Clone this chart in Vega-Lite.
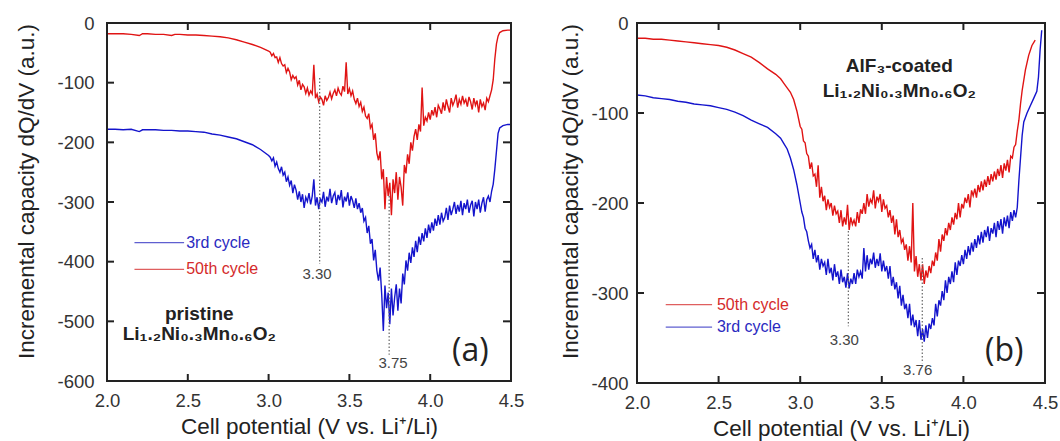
{
"$schema": "https://vega.github.io/schema/vega-lite/v6.json",
"padding": {"left": 14, "top": 13, "right": 0, "bottom": 0},
"background": "white",
"spacing": 33,
"config": {
  "view": {"stroke": "#222", "strokeWidth": 2},
  "font": "Liberation Sans",
  "axis": {"grid": false, "ticks": false, "tickSize": 0, "domain": false, "labelFontSize": 18.5, "labelColor": "#333", "labelFont": "Liberation Sans", "titleFont": "Liberation Sans", "titleFontSize": 22.5, "titleFontWeight": "normal", "titleColor": "#222", "labelFlush": false, "labelOverlap": false}
},
"datasets": {
"one": [{"f": 1}],
"xt": [{"v":2.5},{"v":3.0},{"v":3.5},{"v":4.0}],
"yta": [{"v":-100},{"v":-200},{"v":-300},{"v":-400},{"v":-500}],
"ytb": [{"v":-100},{"v":-200},{"v":-300}],
"a50": [
{"x":2.0,"y":-18},{"x":2.05,"y":-18},{"x":2.1,"y":-18},{"x":2.15,"y":-19},{"x":2.2,"y":-21},{"x":2.22,"y":-18},{"x":2.25,"y":-18},{"x":2.3,"y":-19},{"x":2.35,"y":-19},{"x":2.4,"y":-21},{"x":2.42,"y":-19},{"x":2.45,"y":-19},{"x":2.5,"y":-20},{"x":2.55,"y":-20},{"x":2.6,"y":-21},{"x":2.65,"y":-22},{"x":2.7,"y":-23},{"x":2.75,"y":-25},{"x":2.8,"y":-28},{"x":2.85,"y":-32},{"x":2.9,"y":-36},{"x":2.95,"y":-41},{"x":3.0,"y":-47},
{"x":3.01,"y":-49},{"x":3.02,"y":-55},{"x":3.03,"y":-51},{"x":3.04,"y":-58},{"x":3.05,"y":-57},{"x":3.06,"y":-66},{"x":3.07,"y":-58},{"x":3.08,"y":-68},{"x":3.09,"y":-72},{"x":3.10,"y":-70},{"x":3.11,"y":-83},{"x":3.12,"y":-76},{"x":3.13,"y":-82},{"x":3.14,"y":-95},{"x":3.15,"y":-88},{"x":3.16,"y":-93},{"x":3.17,"y":-90},{"x":3.18,"y":-104},{"x":3.19,"y":-96},{"x":3.20,"y":-112},{"x":3.21,"y":-103},{"x":3.22,"y":-107},{"x":3.23,"y":-118},{"x":3.24,"y":-109},{"x":3.25,"y":-121},{"x":3.26,"y":-114},{"x":3.27,"y":-119},{"x":3.28,"y":-70},{"x":3.29,"y":-126},{"x":3.30,"y":-119},{"x":3.31,"y":-132},{"x":3.32,"y":-124},{"x":3.33,"y":-128},{"x":3.34,"y":-138},{"x":3.35,"y":-122},{"x":3.36,"y":-130},{"x":3.37,"y":-125},{"x":3.38,"y":-116},{"x":3.39,"y":-127},{"x":3.40,"y":-118},{"x":3.41,"y":-112},{"x":3.42,"y":-122},{"x":3.43,"y":-109},{"x":3.44,"y":-117},{"x":3.45,"y":-121},{"x":3.46,"y":-106},{"x":3.47,"y":-115},{"x":3.48,"y":-66},{"x":3.49,"y":-119},{"x":3.50,"y":-110},{"x":3.51,"y":-122},{"x":3.52,"y":-114},{"x":3.53,"y":-128},{"x":3.54,"y":-135},{"x":3.55,"y":-126},{"x":3.56,"y":-140},{"x":3.57,"y":-133},{"x":3.58,"y":-148},{"x":3.59,"y":-141},{"x":3.60,"y":-156},{"x":3.61,"y":-160},{"x":3.62,"y":-152},{"x":3.63,"y":-176},{"x":3.64,"y":-170},{"x":3.65,"y":-196},{"x":3.66,"y":-185},{"x":3.67,"y":-218},{"x":3.68,"y":-230},{"x":3.69,"y":-215},{"x":3.70,"y":-262},{"x":3.71,"y":-245},{"x":3.72,"y":-312},{"x":3.73,"y":-258},{"x":3.74,"y":-290},{"x":3.75,"y":-268},{"x":3.76,"y":-322},{"x":3.77,"y":-262},{"x":3.78,"y":-285},{"x":3.79,"y":-250},{"x":3.80,"y":-296},{"x":3.81,"y":-258},{"x":3.82,"y":-275},{"x":3.83,"y":-306},{"x":3.84,"y":-238},{"x":3.85,"y":-252},{"x":3.86,"y":-220},{"x":3.87,"y":-236},{"x":3.88,"y":-200},{"x":3.89,"y":-214},{"x":3.90,"y":-190},{"x":3.91,"y":-178},{"x":3.92,"y":-196},{"x":3.93,"y":-170},{"x":3.94,"y":-182},{"x":3.95,"y":-108},{"x":3.96,"y":-172},{"x":3.97,"y":-158},{"x":3.98,"y":-164},{"x":3.99,"y":-150},{"x":4.00,"y":-162},{"x":4.01,"y":-146},{"x":4.02,"y":-155},{"x":4.03,"y":-141},{"x":4.04,"y":-158},{"x":4.05,"y":-138},{"x":4.06,"y":-144},{"x":4.07,"y":-152},{"x":4.08,"y":-133},{"x":4.09,"y":-147},{"x":4.10,"y":-128},{"x":4.11,"y":-140},{"x":4.12,"y":-150},{"x":4.13,"y":-126},{"x":4.14,"y":-138},{"x":4.15,"y":-131},{"x":4.16,"y":-120},{"x":4.17,"y":-142},{"x":4.18,"y":-128},{"x":4.19,"y":-136},{"x":4.20,"y":-122},{"x":4.21,"y":-134},{"x":4.22,"y":-128},{"x":4.23,"y":-140},{"x":4.24,"y":-124},{"x":4.25,"y":-132},{"x":4.26,"y":-145},{"x":4.27,"y":-126},{"x":4.28,"y":-138},{"x":4.29,"y":-130},{"x":4.30,"y":-150},{"x":4.31,"y":-128},{"x":4.32,"y":-140},{"x":4.33,"y":-134},{"x":4.34,"y":-146},{"x":4.35,"y":-126},{"x":4.36,"y":-132},{"x":4.37,"y":-122},{"x":4.38,"y":-112},{"x":4.39,"y":-95},{"x":4.40,"y":-60},{"x":4.41,"y":-35},{"x":4.42,"y":-22},{"x":4.43,"y":-16},{"x":4.45,"y":-13},{"x":4.48,"y":-12},{"x":4.50,"y":-12}
],
"a3": [
{"x":2.0,"y":-178},{"x":2.05,"y":-178},{"x":2.1,"y":-179},{"x":2.15,"y":-178},{"x":2.2,"y":-182},{"x":2.22,"y":-179},{"x":2.25,"y":-179},{"x":2.3,"y":-179},{"x":2.35,"y":-180},{"x":2.4,"y":-180},{"x":2.45,"y":-181},{"x":2.5,"y":-181},{"x":2.55,"y":-182},{"x":2.6,"y":-183},{"x":2.65,"y":-186},{"x":2.7,"y":-188},{"x":2.75,"y":-191},{"x":2.8,"y":-194},{"x":2.85,"y":-199},{"x":2.9,"y":-204},{"x":2.95,"y":-212},{"x":3.0,"y":-222},
{"x":3.01,"y":-225},{"x":3.02,"y":-231},{"x":3.03,"y":-226},{"x":3.04,"y":-240},{"x":3.05,"y":-233},{"x":3.06,"y":-244},{"x":3.07,"y":-250},{"x":3.08,"y":-241},{"x":3.09,"y":-255},{"x":3.10,"y":-250},{"x":3.11,"y":-266},{"x":3.12,"y":-258},{"x":3.13,"y":-272},{"x":3.14,"y":-264},{"x":3.15,"y":-285},{"x":3.16,"y":-271},{"x":3.17,"y":-280},{"x":3.18,"y":-296},{"x":3.19,"y":-282},{"x":3.20,"y":-300},{"x":3.21,"y":-287},{"x":3.22,"y":-310},{"x":3.23,"y":-292},{"x":3.24,"y":-299},{"x":3.25,"y":-285},{"x":3.26,"y":-304},{"x":3.27,"y":-290},{"x":3.28,"y":-262},{"x":3.29,"y":-306},{"x":3.30,"y":-292},{"x":3.31,"y":-312},{"x":3.32,"y":-295},{"x":3.33,"y":-300},{"x":3.34,"y":-283},{"x":3.35,"y":-308},{"x":3.36,"y":-291},{"x":3.37,"y":-299},{"x":3.38,"y":-278},{"x":3.39,"y":-302},{"x":3.40,"y":-290},{"x":3.41,"y":-284},{"x":3.42,"y":-305},{"x":3.43,"y":-288},{"x":3.44,"y":-297},{"x":3.45,"y":-280},{"x":3.46,"y":-309},{"x":3.47,"y":-291},{"x":3.48,"y":-299},{"x":3.49,"y":-284},{"x":3.50,"y":-306},{"x":3.51,"y":-290},{"x":3.52,"y":-298},{"x":3.53,"y":-310},{"x":3.54,"y":-294},{"x":3.55,"y":-312},{"x":3.56,"y":-302},{"x":3.57,"y":-318},{"x":3.58,"y":-310},{"x":3.59,"y":-332},{"x":3.60,"y":-326},{"x":3.61,"y":-352},{"x":3.62,"y":-340},{"x":3.63,"y":-370},{"x":3.64,"y":-362},{"x":3.65,"y":-398},{"x":3.66,"y":-380},{"x":3.67,"y":-415},{"x":3.68,"y":-432},{"x":3.69,"y":-410},{"x":3.70,"y":-455},{"x":3.71,"y":-516},{"x":3.72,"y":-440},{"x":3.73,"y":-478},{"x":3.74,"y":-452},{"x":3.75,"y":-505},{"x":3.76,"y":-445},{"x":3.77,"y":-490},{"x":3.78,"y":-460},{"x":3.79,"y":-438},{"x":3.80,"y":-482},{"x":3.81,"y":-445},{"x":3.82,"y":-470},{"x":3.83,"y":-420},{"x":3.84,"y":-438},{"x":3.85,"y":-398},{"x":3.86,"y":-415},{"x":3.87,"y":-385},{"x":3.88,"y":-402},{"x":3.89,"y":-376},{"x":3.90,"y":-392},{"x":3.91,"y":-365},{"x":3.92,"y":-384},{"x":3.93,"y":-358},{"x":3.94,"y":-372},{"x":3.95,"y":-352},{"x":3.96,"y":-366},{"x":3.97,"y":-344},{"x":3.98,"y":-360},{"x":3.99,"y":-338},{"x":4.00,"y":-352},{"x":4.01,"y":-334},{"x":4.02,"y":-348},{"x":4.03,"y":-328},{"x":4.04,"y":-340},{"x":4.05,"y":-322},{"x":4.06,"y":-338},{"x":4.07,"y":-318},{"x":4.08,"y":-332},{"x":4.09,"y":-326},{"x":4.10,"y":-310},{"x":4.11,"y":-330},{"x":4.12,"y":-306},{"x":4.13,"y":-322},{"x":4.14,"y":-312},{"x":4.15,"y":-300},{"x":4.16,"y":-320},{"x":4.17,"y":-305},{"x":4.18,"y":-316},{"x":4.19,"y":-298},{"x":4.20,"y":-322},{"x":4.21,"y":-302},{"x":4.22,"y":-312},{"x":4.23,"y":-296},{"x":4.24,"y":-318},{"x":4.25,"y":-305},{"x":4.26,"y":-298},{"x":4.27,"y":-324},{"x":4.28,"y":-300},{"x":4.29,"y":-312},{"x":4.30,"y":-296},{"x":4.31,"y":-318},{"x":4.32,"y":-302},{"x":4.33,"y":-292},{"x":4.34,"y":-316},{"x":4.35,"y":-296},{"x":4.36,"y":-290},{"x":4.37,"y":-300},{"x":4.38,"y":-282},{"x":4.39,"y":-270},{"x":4.40,"y":-245},{"x":4.41,"y":-215},{"x":4.42,"y":-185},{"x":4.43,"y":-176},{"x":4.45,"y":-172},{"x":4.48,"y":-170},{"x":4.50,"y":-170}
],
"b50": [
{"x":2.0,"y":-17},{"x":2.05,"y":-17},{"x":2.1,"y":-18},{"x":2.15,"y":-18},{"x":2.2,"y":-19},{"x":2.25,"y":-20},{"x":2.3,"y":-21},{"x":2.35,"y":-22},{"x":2.4,"y":-23},{"x":2.45,"y":-24},{"x":2.5,"y":-25},{"x":2.55,"y":-27},{"x":2.6,"y":-30},{"x":2.65,"y":-34},{"x":2.7,"y":-38},{"x":2.75,"y":-44},{"x":2.8,"y":-51},{"x":2.85,"y":-57},{"x":2.88,"y":-62},{"x":2.9,"y":-67},{"x":2.92,"y":-72},{"x":2.94,"y":-77},{"x":2.96,"y":-85},{"x":2.98,"y":-98},{"x":3.00,"y":-115},
{"x":3.01,"y":-118},{"x":3.02,"y":-131},{"x":3.03,"y":-133},{"x":3.04,"y":-145},{"x":3.05,"y":-148},{"x":3.06,"y":-162},{"x":3.07,"y":-155},{"x":3.08,"y":-170},{"x":3.09,"y":-168},{"x":3.10,"y":-182},{"x":3.11,"y":-158},{"x":3.12,"y":-194},{"x":3.13,"y":-182},{"x":3.14,"y":-198},{"x":3.15,"y":-192},{"x":3.16,"y":-208},{"x":3.17,"y":-196},{"x":3.18,"y":-205},{"x":3.19,"y":-200},{"x":3.20,"y":-214},{"x":3.21,"y":-203},{"x":3.22,"y":-212},{"x":3.23,"y":-209},{"x":3.24,"y":-222},{"x":3.25,"y":-208},{"x":3.26,"y":-226},{"x":3.27,"y":-216},{"x":3.28,"y":-224},{"x":3.29,"y":-202},{"x":3.30,"y":-230},{"x":3.31,"y":-216},{"x":3.32,"y":-224},{"x":3.33,"y":-219},{"x":3.34,"y":-226},{"x":3.35,"y":-210},{"x":3.36,"y":-222},{"x":3.37,"y":-207},{"x":3.38,"y":-212},{"x":3.39,"y":-200},{"x":3.40,"y":-212},{"x":3.41,"y":-190},{"x":3.42,"y":-204},{"x":3.43,"y":-196},{"x":3.44,"y":-200},{"x":3.45,"y":-186},{"x":3.46,"y":-206},{"x":3.47,"y":-193},{"x":3.48,"y":-198},{"x":3.49,"y":-190},{"x":3.50,"y":-210},{"x":3.51,"y":-196},{"x":3.52,"y":-206},{"x":3.53,"y":-203},{"x":3.54,"y":-216},{"x":3.55,"y":-208},{"x":3.56,"y":-222},{"x":3.57,"y":-214},{"x":3.58,"y":-235},{"x":3.59,"y":-218},{"x":3.60,"y":-238},{"x":3.61,"y":-230},{"x":3.62,"y":-244},{"x":3.63,"y":-240},{"x":3.64,"y":-252},{"x":3.65,"y":-246},{"x":3.66,"y":-264},{"x":3.67,"y":-248},{"x":3.68,"y":-266},{"x":3.69,"y":-200},{"x":3.70,"y":-276},{"x":3.71,"y":-259},{"x":3.72,"y":-282},{"x":3.73,"y":-268},{"x":3.74,"y":-286},{"x":3.75,"y":-268},{"x":3.76,"y":-290},{"x":3.77,"y":-275},{"x":3.78,"y":-283},{"x":3.79,"y":-270},{"x":3.80,"y":-278},{"x":3.81,"y":-264},{"x":3.82,"y":-270},{"x":3.83,"y":-255},{"x":3.84,"y":-264},{"x":3.85,"y":-240},{"x":3.86,"y":-254},{"x":3.87,"y":-235},{"x":3.88,"y":-242},{"x":3.89,"y":-228},{"x":3.90,"y":-236},{"x":3.91,"y":-222},{"x":3.92,"y":-230},{"x":3.93,"y":-216},{"x":3.94,"y":-224},{"x":3.95,"y":-211},{"x":3.96,"y":-218},{"x":3.97,"y":-200},{"x":3.98,"y":-216},{"x":3.99,"y":-201},{"x":4.00,"y":-206},{"x":4.01,"y":-194},{"x":4.02,"y":-200},{"x":4.03,"y":-190},{"x":4.04,"y":-205},{"x":4.05,"y":-186},{"x":4.06,"y":-192},{"x":4.07,"y":-184},{"x":4.08,"y":-194},{"x":4.09,"y":-180},{"x":4.10,"y":-188},{"x":4.11,"y":-176},{"x":4.12,"y":-186},{"x":4.13,"y":-174},{"x":4.14,"y":-182},{"x":4.15,"y":-170},{"x":4.16,"y":-180},{"x":4.17,"y":-168},{"x":4.18,"y":-176},{"x":4.19,"y":-165},{"x":4.20,"y":-174},{"x":4.21,"y":-162},{"x":4.22,"y":-170},{"x":4.23,"y":-158},{"x":4.24,"y":-172},{"x":4.25,"y":-156},{"x":4.26,"y":-164},{"x":4.27,"y":-152},{"x":4.28,"y":-166},{"x":4.29,"y":-148},{"x":4.30,"y":-150},{"x":4.31,"y":-138},{"x":4.32,"y":-135},{"x":4.33,"y":-120},{"x":4.34,"y":-108},{"x":4.35,"y":-90},{"x":4.36,"y":-75},{"x":4.38,"y":-52},{"x":4.40,"y":-36},{"x":4.42,"y":-25},{"x":4.44,"y":-19}
],
"b3": [
{"x":2.0,"y":-80},{"x":2.05,"y":-81},{"x":2.1,"y":-83},{"x":2.15,"y":-84},{"x":2.2,"y":-85},{"x":2.25,"y":-87},{"x":2.3,"y":-88},{"x":2.35,"y":-90},{"x":2.4,"y":-91},{"x":2.45,"y":-92},{"x":2.5,"y":-94},{"x":2.55,"y":-96},{"x":2.6,"y":-99},{"x":2.65,"y":-103},{"x":2.7,"y":-108},{"x":2.75,"y":-112},{"x":2.8,"y":-116},{"x":2.85,"y":-123},{"x":2.88,"y":-128},{"x":2.9,"y":-134},{"x":2.92,"y":-140},{"x":2.94,"y":-150},{"x":2.96,"y":-163},{"x":2.98,"y":-180},{"x":3.00,"y":-200},
{"x":3.01,"y":-210},{"x":3.02,"y":-216},{"x":3.03,"y":-228},{"x":3.04,"y":-232},{"x":3.05,"y":-242},{"x":3.06,"y":-250},{"x":3.07,"y":-246},{"x":3.08,"y":-262},{"x":3.09,"y":-252},{"x":3.10,"y":-266},{"x":3.11,"y":-258},{"x":3.12,"y":-274},{"x":3.13,"y":-262},{"x":3.14,"y":-270},{"x":3.15,"y":-266},{"x":3.16,"y":-280},{"x":3.17,"y":-262},{"x":3.18,"y":-278},{"x":3.19,"y":-272},{"x":3.20,"y":-286},{"x":3.21,"y":-268},{"x":3.22,"y":-282},{"x":3.23,"y":-276},{"x":3.24,"y":-290},{"x":3.25,"y":-274},{"x":3.26,"y":-288},{"x":3.27,"y":-282},{"x":3.28,"y":-294},{"x":3.29,"y":-278},{"x":3.30,"y":-295},{"x":3.31,"y":-284},{"x":3.32,"y":-290},{"x":3.33,"y":-278},{"x":3.34,"y":-290},{"x":3.35,"y":-274},{"x":3.36,"y":-282},{"x":3.37,"y":-276},{"x":3.38,"y":-284},{"x":3.39,"y":-250},{"x":3.40,"y":-276},{"x":3.41,"y":-258},{"x":3.42,"y":-274},{"x":3.43,"y":-262},{"x":3.44,"y":-268},{"x":3.45,"y":-255},{"x":3.46,"y":-272},{"x":3.47,"y":-262},{"x":3.48,"y":-270},{"x":3.49,"y":-256},{"x":3.50,"y":-276},{"x":3.51,"y":-264},{"x":3.52,"y":-276},{"x":3.53,"y":-270},{"x":3.54,"y":-284},{"x":3.55,"y":-270},{"x":3.56,"y":-292},{"x":3.57,"y":-282},{"x":3.58,"y":-296},{"x":3.59,"y":-288},{"x":3.60,"y":-306},{"x":3.61,"y":-292},{"x":3.62,"y":-314},{"x":3.63,"y":-302},{"x":3.64,"y":-318},{"x":3.65,"y":-312},{"x":3.66,"y":-328},{"x":3.67,"y":-312},{"x":3.68,"y":-336},{"x":3.69,"y":-324},{"x":3.70,"y":-338},{"x":3.71,"y":-330},{"x":3.72,"y":-348},{"x":3.73,"y":-330},{"x":3.74,"y":-352},{"x":3.75,"y":-340},{"x":3.76,"y":-354},{"x":3.77,"y":-336},{"x":3.78,"y":-350},{"x":3.79,"y":-334},{"x":3.80,"y":-340},{"x":3.81,"y":-328},{"x":3.82,"y":-336},{"x":3.83,"y":-312},{"x":3.84,"y":-326},{"x":3.85,"y":-308},{"x":3.86,"y":-314},{"x":3.87,"y":-298},{"x":3.88,"y":-308},{"x":3.89,"y":-286},{"x":3.90,"y":-300},{"x":3.91,"y":-282},{"x":3.92,"y":-290},{"x":3.93,"y":-276},{"x":3.94,"y":-288},{"x":3.95,"y":-266},{"x":3.96,"y":-280},{"x":3.97,"y":-264},{"x":3.98,"y":-270},{"x":3.99,"y":-258},{"x":4.00,"y":-268},{"x":4.01,"y":-252},{"x":4.02,"y":-262},{"x":4.03,"y":-248},{"x":4.04,"y":-258},{"x":4.05,"y":-244},{"x":4.06,"y":-254},{"x":4.07,"y":-240},{"x":4.08,"y":-250},{"x":4.09,"y":-236},{"x":4.10,"y":-246},{"x":4.11,"y":-232},{"x":4.12,"y":-244},{"x":4.13,"y":-230},{"x":4.14,"y":-238},{"x":4.15,"y":-226},{"x":4.16,"y":-242},{"x":4.17,"y":-228},{"x":4.18,"y":-234},{"x":4.19,"y":-222},{"x":4.20,"y":-238},{"x":4.21,"y":-220},{"x":4.22,"y":-230},{"x":4.23,"y":-218},{"x":4.24,"y":-234},{"x":4.25,"y":-216},{"x":4.26,"y":-226},{"x":4.27,"y":-214},{"x":4.28,"y":-228},{"x":4.29,"y":-210},{"x":4.30,"y":-220},{"x":4.31,"y":-208},{"x":4.32,"y":-216},{"x":4.33,"y":-205},{"x":4.34,"y":-175},{"x":4.35,"y":-150},{"x":4.36,"y":-125},{"x":4.37,"y":-110},{"x":4.39,"y":-100},{"x":4.41,"y":-92},{"x":4.43,"y":-84},{"x":4.45,"y":-76},{"x":4.46,"y":-60},{"x":4.47,"y":-30},{"x":4.48,"y":-8}
],
"ann": [
{"p":"a","k":"dot","x":3.316,"y":-92,"y2":-404},
{"p":"a","k":"dot","x":3.746,"y":-290,"y2":-556},
{"p":"a","k":"leg","s":"3rd cycle","x":2.17,"x2":2.477,"xt":2.49,"y":-368},
{"p":"a","k":"leg","s":"50th cycle","x":2.17,"x2":2.477,"xt":2.49,"y":-413},
{"p":"a","k":"num","t":"3.30","x":3.30,"y":-421},
{"p":"a","k":"num","t":"3.75","x":3.77,"y":-570},
{"p":"a","k":"lab","t":"pristine","x":2.571,"y":-488},
{"p":"a","k":"lab","t":"Li₁.₂Ni₀.₃Mn₀.₆O₂","x":2.571,"y":-522},
{"p":"a","k":"let","t":"(a)","x":4.248,"y":-550},
{"p":"b","k":"dot","x":3.295,"y":-231,"y2":-337},
{"p":"b","k":"dot","x":3.748,"y":-261,"y2":-378},
{"p":"b","k":"leg","s":"50th cycle","x":2.176,"x2":2.46,"xt":2.49,"y":-313},
{"p":"b","k":"leg","s":"3rd cycle","x":2.176,"x2":2.46,"xt":2.49,"y":-338},
{"p":"b","k":"num","t":"3.30","x":3.27,"y":-352},
{"p":"b","k":"num","t":"3.76","x":3.72,"y":-385},
{"p":"b","k":"lab","t":"AlF₃-coated","x":3.607,"y":-48},
{"p":"b","k":"lab","t":"Li₁.₂Ni₀.₃Mn₀.₆O₂","x":3.607,"y":-76},
{"p":"b","k":"let","t":"(b)","x":4.25,"y":-364}
]
},
"hconcat": [
{
 "width": 404, "height": 358,
 "resolve": {"axis": {"x": "independent", "y": "independent"}},
 "layer": [
  {"data": {"name": "a3"}, "mark": {"type": "line", "color": "#1414cc", "strokeWidth": 1.4, "clip": true},
   "encoding": {
    "x": {"field": "x", "type": "quantitative", "scale": {"domain": [2, 4.5], "nice": false, "zero": false},
          "axis": {"orient": "bottom", "values": [2, 2.5, 3, 3.5, 4, 4.5], "format": ".1f", "labelPadding": 10, "title": "Cell potential (V vs. Li⁺/Li)", "titlePadding": 6}},
    "y": {"field": "y", "type": "quantitative", "scale": {"domain": [-600, 0], "nice": false, "zero": false},
          "axis": {"orient": "left", "values": [0, -100, -200, -300, -400, -500, -600], "labelExpr": "datum.value < 0 ? '-' + toString(abs(datum.value)) : toString(datum.value)", "labelPadding": 13, "title": "Incremental capacity dQ/dV (a.u.)", "titlePadding": 18, "titleY": 168}}
   }},
  {"data": {"name": "a50"}, "mark": {"type": "line", "color": "#e01414", "strokeWidth": 1.4, "clip": true},
   "encoding": {"x": {"field": "x", "type": "quantitative", "axis": null}, "y": {"field": "y", "type": "quantitative", "axis": null}}},
  {"data": {"name": "one"}, "mark": {"type": "rect", "fill": "transparent", "stroke": "#222", "strokeWidth": 2},
   "encoding": {"x": {"datum": 2, "type": "quantitative", "axis": null}, "x2": {"datum": 4.5}, "y": {"datum": 0, "type": "quantitative", "axis": null}, "y2": {"datum": -600}}},
  {"data": {"name": "xt"}, "mark": {"type": "rule", "color": "#222", "strokeWidth": 2, "y2Offset": -7},
   "encoding": {"x": {"field": "v", "type": "quantitative", "axis": null}, "y": {"datum": -600, "type": "quantitative", "axis": null}, "y2": {"datum": -600}}},
  {"data": {"name": "xt"}, "mark": {"type": "rule", "color": "#222", "strokeWidth": 2, "y2Offset": 7},
   "encoding": {"x": {"field": "v", "type": "quantitative", "axis": null}, "y": {"datum": 0, "type": "quantitative", "axis": null}, "y2": {"datum": 0}}},
  {"data": {"name": "yta"}, "mark": {"type": "rule", "color": "#222", "strokeWidth": 2, "x2Offset": 7},
   "encoding": {"y": {"field": "v", "type": "quantitative", "axis": null}, "x": {"datum": 2, "type": "quantitative", "axis": null}, "x2": {"datum": 2}}},
  {"data": {"name": "yta"}, "mark": {"type": "rule", "color": "#222", "strokeWidth": 2, "x2Offset": -8},
   "encoding": {"y": {"field": "v", "type": "quantitative", "axis": null}, "x": {"datum": 4.5, "type": "quantitative", "axis": null}, "x2": {"datum": 4.5}}},
  {"data": {"name": "ann"}, "transform": [{"filter": "datum.p == 'a' && datum.k == 'dot'"}],
   "mark": {"type": "rule", "color": "#666", "strokeWidth": 1.2, "strokeDash": [1.5, 2]},
   "encoding": {"x": {"field": "x", "type": "quantitative", "axis": null}, "y": {"field": "y", "type": "quantitative", "axis": null}, "y2": {"field": "y2"}}},
  {"data": {"name": "ann"}, "transform": [{"filter": "datum.p == 'a' && datum.k == 'leg'"}],
   "mark": {"type": "rule", "strokeWidth": 1.2, "opacity": 0.75},
   "encoding": {"x": {"field": "x", "type": "quantitative", "axis": null}, "x2": {"field": "x2"}, "y": {"field": "y", "type": "quantitative", "axis": null},
    "color": {"field": "s", "type": "nominal", "scale": {"domain": ["3rd cycle", "50th cycle"], "range": ["#2a2ac0", "#d42a2a"]}, "legend": null}}},
  {"data": {"name": "ann"}, "transform": [{"filter": "datum.p == 'a' && datum.k == 'leg'"}],
   "mark": {"type": "text", "align": "left", "baseline": "middle", "fontSize": 16},
   "encoding": {"x": {"field": "xt", "type": "quantitative", "axis": null}, "y": {"field": "y", "type": "quantitative", "axis": null}, "text": {"field": "s"},
    "color": {"field": "s", "type": "nominal", "legend": null}}},
  {"data": {"name": "ann"}, "transform": [{"filter": "datum.p == 'a' && datum.k == 'num'"}],
   "mark": {"type": "text", "align": "center", "baseline": "middle", "fontSize": 15, "color": "#444"},
   "encoding": {"x": {"field": "x", "type": "quantitative", "axis": null}, "y": {"field": "y", "type": "quantitative", "axis": null}, "text": {"field": "t"}}},
  {"data": {"name": "ann"}, "transform": [{"filter": "datum.p == 'a' && datum.k == 'lab'"}],
   "mark": {"type": "text", "align": "center", "baseline": "middle", "fontSize": 19, "fontWeight": "bold", "color": "#222"},
   "encoding": {"x": {"field": "x", "type": "quantitative", "axis": null}, "y": {"field": "y", "type": "quantitative", "axis": null}, "text": {"field": "t"}}},
  {"data": {"name": "ann"}, "transform": [{"filter": "datum.p == 'a' && datum.k == 'let'"}],
   "mark": {"type": "text", "align": "center", "baseline": "middle", "fontSize": 32, "font": "Open Sans", "color": "#222"},
   "encoding": {"x": {"field": "x", "type": "quantitative", "axis": null}, "y": {"field": "y", "type": "quantitative", "axis": null}, "text": {"field": "t"}}}
 ]
},
{
 "width": 408, "height": 360,
 "resolve": {"axis": {"x": "independent", "y": "independent"}},
 "layer": [
  {"data": {"name": "b3"}, "mark": {"type": "line", "color": "#1414cc", "strokeWidth": 1.4, "clip": true},
   "encoding": {
    "x": {"field": "x", "type": "quantitative", "scale": {"domain": [2, 4.5], "nice": false, "zero": false},
          "axis": {"orient": "bottom", "values": [2, 2.5, 3, 3.5, 4, 4.5], "format": ".1f", "labelPadding": 10, "title": "Cell potential (V vs. Li⁺/Li)", "titlePadding": 6}},
    "y": {"field": "y", "type": "quantitative", "scale": {"domain": [-400, 0], "nice": false, "zero": false},
          "axis": {"orient": "left", "values": [0, -100, -200, -300, -400], "labelExpr": "datum.value < 0 ? '-' + toString(abs(datum.value)) : toString(datum.value)", "labelPadding": 9, "title": "Incremental capacity dQ/dV (a.u.)", "titlePadding": 8, "titleY": 168}}
   }},
  {"data": {"name": "b50"}, "mark": {"type": "line", "color": "#e01414", "strokeWidth": 1.4, "clip": true},
   "encoding": {"x": {"field": "x", "type": "quantitative", "axis": null}, "y": {"field": "y", "type": "quantitative", "axis": null}}},
  {"data": {"name": "one"}, "mark": {"type": "rect", "fill": "transparent", "stroke": "#222", "strokeWidth": 2},
   "encoding": {"x": {"datum": 2, "type": "quantitative", "axis": null}, "x2": {"datum": 4.5}, "y": {"datum": 0, "type": "quantitative", "axis": null}, "y2": {"datum": -400}}},
  {"data": {"name": "xt"}, "mark": {"type": "rule", "color": "#222", "strokeWidth": 2, "y2Offset": -7},
   "encoding": {"x": {"field": "v", "type": "quantitative", "axis": null}, "y": {"datum": -400, "type": "quantitative", "axis": null}, "y2": {"datum": -400}}},
  {"data": {"name": "xt"}, "mark": {"type": "rule", "color": "#222", "strokeWidth": 2, "y2Offset": 7},
   "encoding": {"x": {"field": "v", "type": "quantitative", "axis": null}, "y": {"datum": 0, "type": "quantitative", "axis": null}, "y2": {"datum": 0}}},
  {"data": {"name": "ytb"}, "mark": {"type": "rule", "color": "#222", "strokeWidth": 2, "x2Offset": 7},
   "encoding": {"y": {"field": "v", "type": "quantitative", "axis": null}, "x": {"datum": 2, "type": "quantitative", "axis": null}, "x2": {"datum": 2}}},
  {"data": {"name": "ytb"}, "mark": {"type": "rule", "color": "#222", "strokeWidth": 2, "x2Offset": -8},
   "encoding": {"y": {"field": "v", "type": "quantitative", "axis": null}, "x": {"datum": 4.5, "type": "quantitative", "axis": null}, "x2": {"datum": 4.5}}},
  {"data": {"name": "ann"}, "transform": [{"filter": "datum.p == 'b' && datum.k == 'dot'"}],
   "mark": {"type": "rule", "color": "#666", "strokeWidth": 1.2, "strokeDash": [1.5, 2]},
   "encoding": {"x": {"field": "x", "type": "quantitative", "axis": null}, "y": {"field": "y", "type": "quantitative", "axis": null}, "y2": {"field": "y2"}}},
  {"data": {"name": "ann"}, "transform": [{"filter": "datum.p == 'b' && datum.k == 'leg'"}],
   "mark": {"type": "rule", "strokeWidth": 1.2, "opacity": 0.75},
   "encoding": {"x": {"field": "x", "type": "quantitative", "axis": null}, "x2": {"field": "x2"}, "y": {"field": "y", "type": "quantitative", "axis": null},
    "color": {"field": "s", "type": "nominal", "scale": {"domain": ["3rd cycle", "50th cycle"], "range": ["#2a2ac0", "#d42a2a"]}, "legend": null}}},
  {"data": {"name": "ann"}, "transform": [{"filter": "datum.p == 'b' && datum.k == 'leg'"}],
   "mark": {"type": "text", "align": "left", "baseline": "middle", "fontSize": 16},
   "encoding": {"x": {"field": "xt", "type": "quantitative", "axis": null}, "y": {"field": "y", "type": "quantitative", "axis": null}, "text": {"field": "s"},
    "color": {"field": "s", "type": "nominal", "legend": null}}},
  {"data": {"name": "ann"}, "transform": [{"filter": "datum.p == 'b' && datum.k == 'num'"}],
   "mark": {"type": "text", "align": "center", "baseline": "middle", "fontSize": 15, "color": "#444"},
   "encoding": {"x": {"field": "x", "type": "quantitative", "axis": null}, "y": {"field": "y", "type": "quantitative", "axis": null}, "text": {"field": "t"}}},
  {"data": {"name": "ann"}, "transform": [{"filter": "datum.p == 'b' && datum.k == 'lab'"}],
   "mark": {"type": "text", "align": "center", "baseline": "middle", "fontSize": 19, "fontWeight": "bold", "color": "#222"},
   "encoding": {"x": {"field": "x", "type": "quantitative", "axis": null}, "y": {"field": "y", "type": "quantitative", "axis": null}, "text": {"field": "t"}}},
  {"data": {"name": "ann"}, "transform": [{"filter": "datum.p == 'b' && datum.k == 'let'"}],
   "mark": {"type": "text", "align": "center", "baseline": "middle", "fontSize": 32, "font": "Open Sans", "color": "#222"},
   "encoding": {"x": {"field": "x", "type": "quantitative", "axis": null}, "y": {"field": "y", "type": "quantitative", "axis": null}, "text": {"field": "t"}}}
 ]
}
]
}
